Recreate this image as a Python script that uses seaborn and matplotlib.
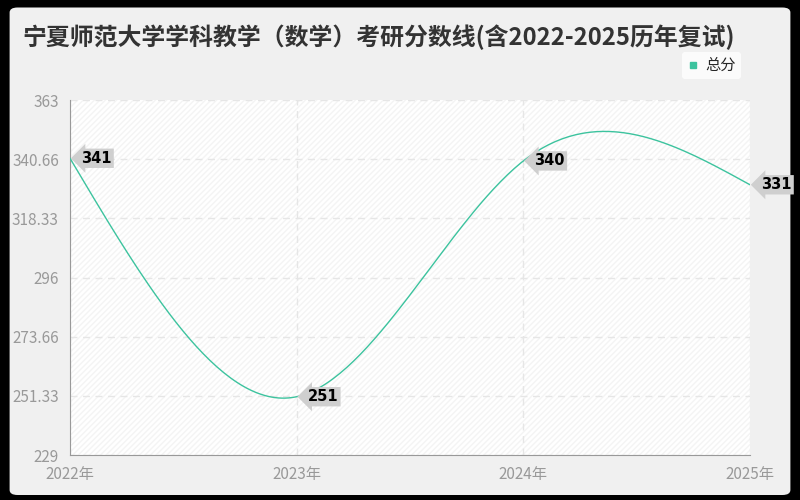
import numpy as np
import pandas as pd
import matplotlib
matplotlib.use("Agg")
import matplotlib.pyplot as plt
import seaborn as sns
from matplotlib.patches import FancyBboxPatch, Rectangle

# ---- data ----
years = [2022, 2023, 2024, 2025]
year_labels = ["2022年", "2023年", "2024年", "2025年"]
scores = [341, 251, 340, 331]
y_ticks = [229, 251.33, 273.66, 296, 318.33, 340.66, 363]
y_tick_labels = ["229", "251.33", "273.66", "296", "318.33", "340.66", "363"]
title = "宁夏师范大学学科教学（数学）考研分数线(含2022-2025历年复试)"
series_name = "总分"

LINE = "#3cc39e"


def natural_spline(x, y, n=200):
    # smooth drawing curve through the points (natural cubic spline)
    x = np.asarray(x, float)
    y = np.asarray(y, float)
    k = len(x)
    h = np.diff(x)
    A = np.zeros((k, k))
    b = np.zeros(k)
    A[0, 0] = A[-1, -1] = 1
    for i in range(1, k - 1):
        A[i, i - 1] = h[i - 1]
        A[i, i] = 2 * (h[i - 1] + h[i])
        A[i, i + 1] = h[i]
        b[i] = 6 * ((y[i + 1] - y[i]) / h[i] - (y[i] - y[i - 1]) / h[i - 1])
    M = np.linalg.solve(A, b)
    xs = np.linspace(x[0], x[-1], n)
    ys = np.empty_like(xs)
    for j, xv in enumerate(xs):
        i = min(np.searchsorted(x, xv, side="right") - 1, k - 2)
        t0 = x[i + 1] - xv
        t1 = xv - x[i]
        ys[j] = (M[i] * t0 ** 3 + M[i + 1] * t1 ** 3) / (6 * h[i]) \
            + (y[i] / h[i] - M[i] * h[i] / 6) * t0 \
            + (y[i + 1] / h[i] - M[i + 1] * h[i] / 6) * t1
    return xs, ys


sns.set_style("white")
plt.rcParams["font.family"] = ["Noto Sans CJK SC", "DejaVu Sans"]

fig = plt.figure(figsize=(8, 5), dpi=100)
fig.patch.set_facecolor("black")
fig.patches.append(FancyBboxPatch((0.012, 0.01), 0.976, 0.975,
                                  boxstyle="round,pad=0,rounding_size=0.01",
                                  transform=fig.transFigure, facecolor="#f0f0f0",
                                  edgecolor="none", zorder=-10))

ax = fig.add_axes([70 / 800, 45 / 500, 680 / 800, 355 / 500])
ax.set_facecolor("white")
ax.add_patch(Rectangle((0, 0), 1, 1, transform=ax.transAxes, facecolor="none",
                       edgecolor="#f4f4f4", hatch="//////", lw=0, zorder=0))

xs, ys = natural_spline(years, scores)
curve = pd.DataFrame({"year": xs, "score": ys})
sns.lineplot(data=curve, x="year", y="score", color=LINE, lw=1, ax=ax, zorder=3)

ax.set_xlim(years[0], years[-1])
ax.set_ylim(y_ticks[0], y_ticks[-1])
ax.set_xticks(years)
ax.set_xticklabels(year_labels)
ax.set_yticks(y_ticks)
ax.set_yticklabels(y_tick_labels)
ax.set_xlabel("")
ax.set_ylabel("")
ax.tick_params(axis="both", colors="#999999", labelsize=11, length=5, width=1,
               labelcolor="#999999", pad=3)
ax.grid(True, color="#e6e6e6", linestyle=(0, (5, 4)), lw=1)
for s in ["top", "right"]:
    ax.spines[s].set_visible(False)
for s in ["left", "bottom"]:
    ax.spines[s].set_color("#999999")

for xv, yv in zip(years, scores):
    ax.annotate(str(yv), xy=(xv, yv), xytext=(8, 0), textcoords="offset points",
                ha="left", va="center", fontsize=10.5, fontweight="bold", color="black",
                bbox=dict(boxstyle="larrow,pad=0.15", fc="#cfcfcf", ec="none"),
                zorder=5, annotation_clip=False, family=["DejaVu Sans"])

fig.text(22 / 800, 1 - 37 / 500, title, fontsize=17.2, fontweight="bold", color="#333333",
         ha="left", va="center")

leg = ax.legend(handles=[plt.Line2D([], [], marker="s", ls="none", color=LINE, markersize=4)],
                labels=[series_name], loc="upper right", bbox_to_anchor=(749 / 800, 1 - 44 / 500),
                bbox_transform=fig.transFigure, frameon=True, fontsize=11,
                handletextpad=0.4, borderpad=0.35, handlelength=0.8)
leg.get_frame().set_edgecolor("none")
leg.get_frame().set_facecolor("white")

fig.savefig("out.png", dpi=100, facecolor=fig.get_facecolor())
